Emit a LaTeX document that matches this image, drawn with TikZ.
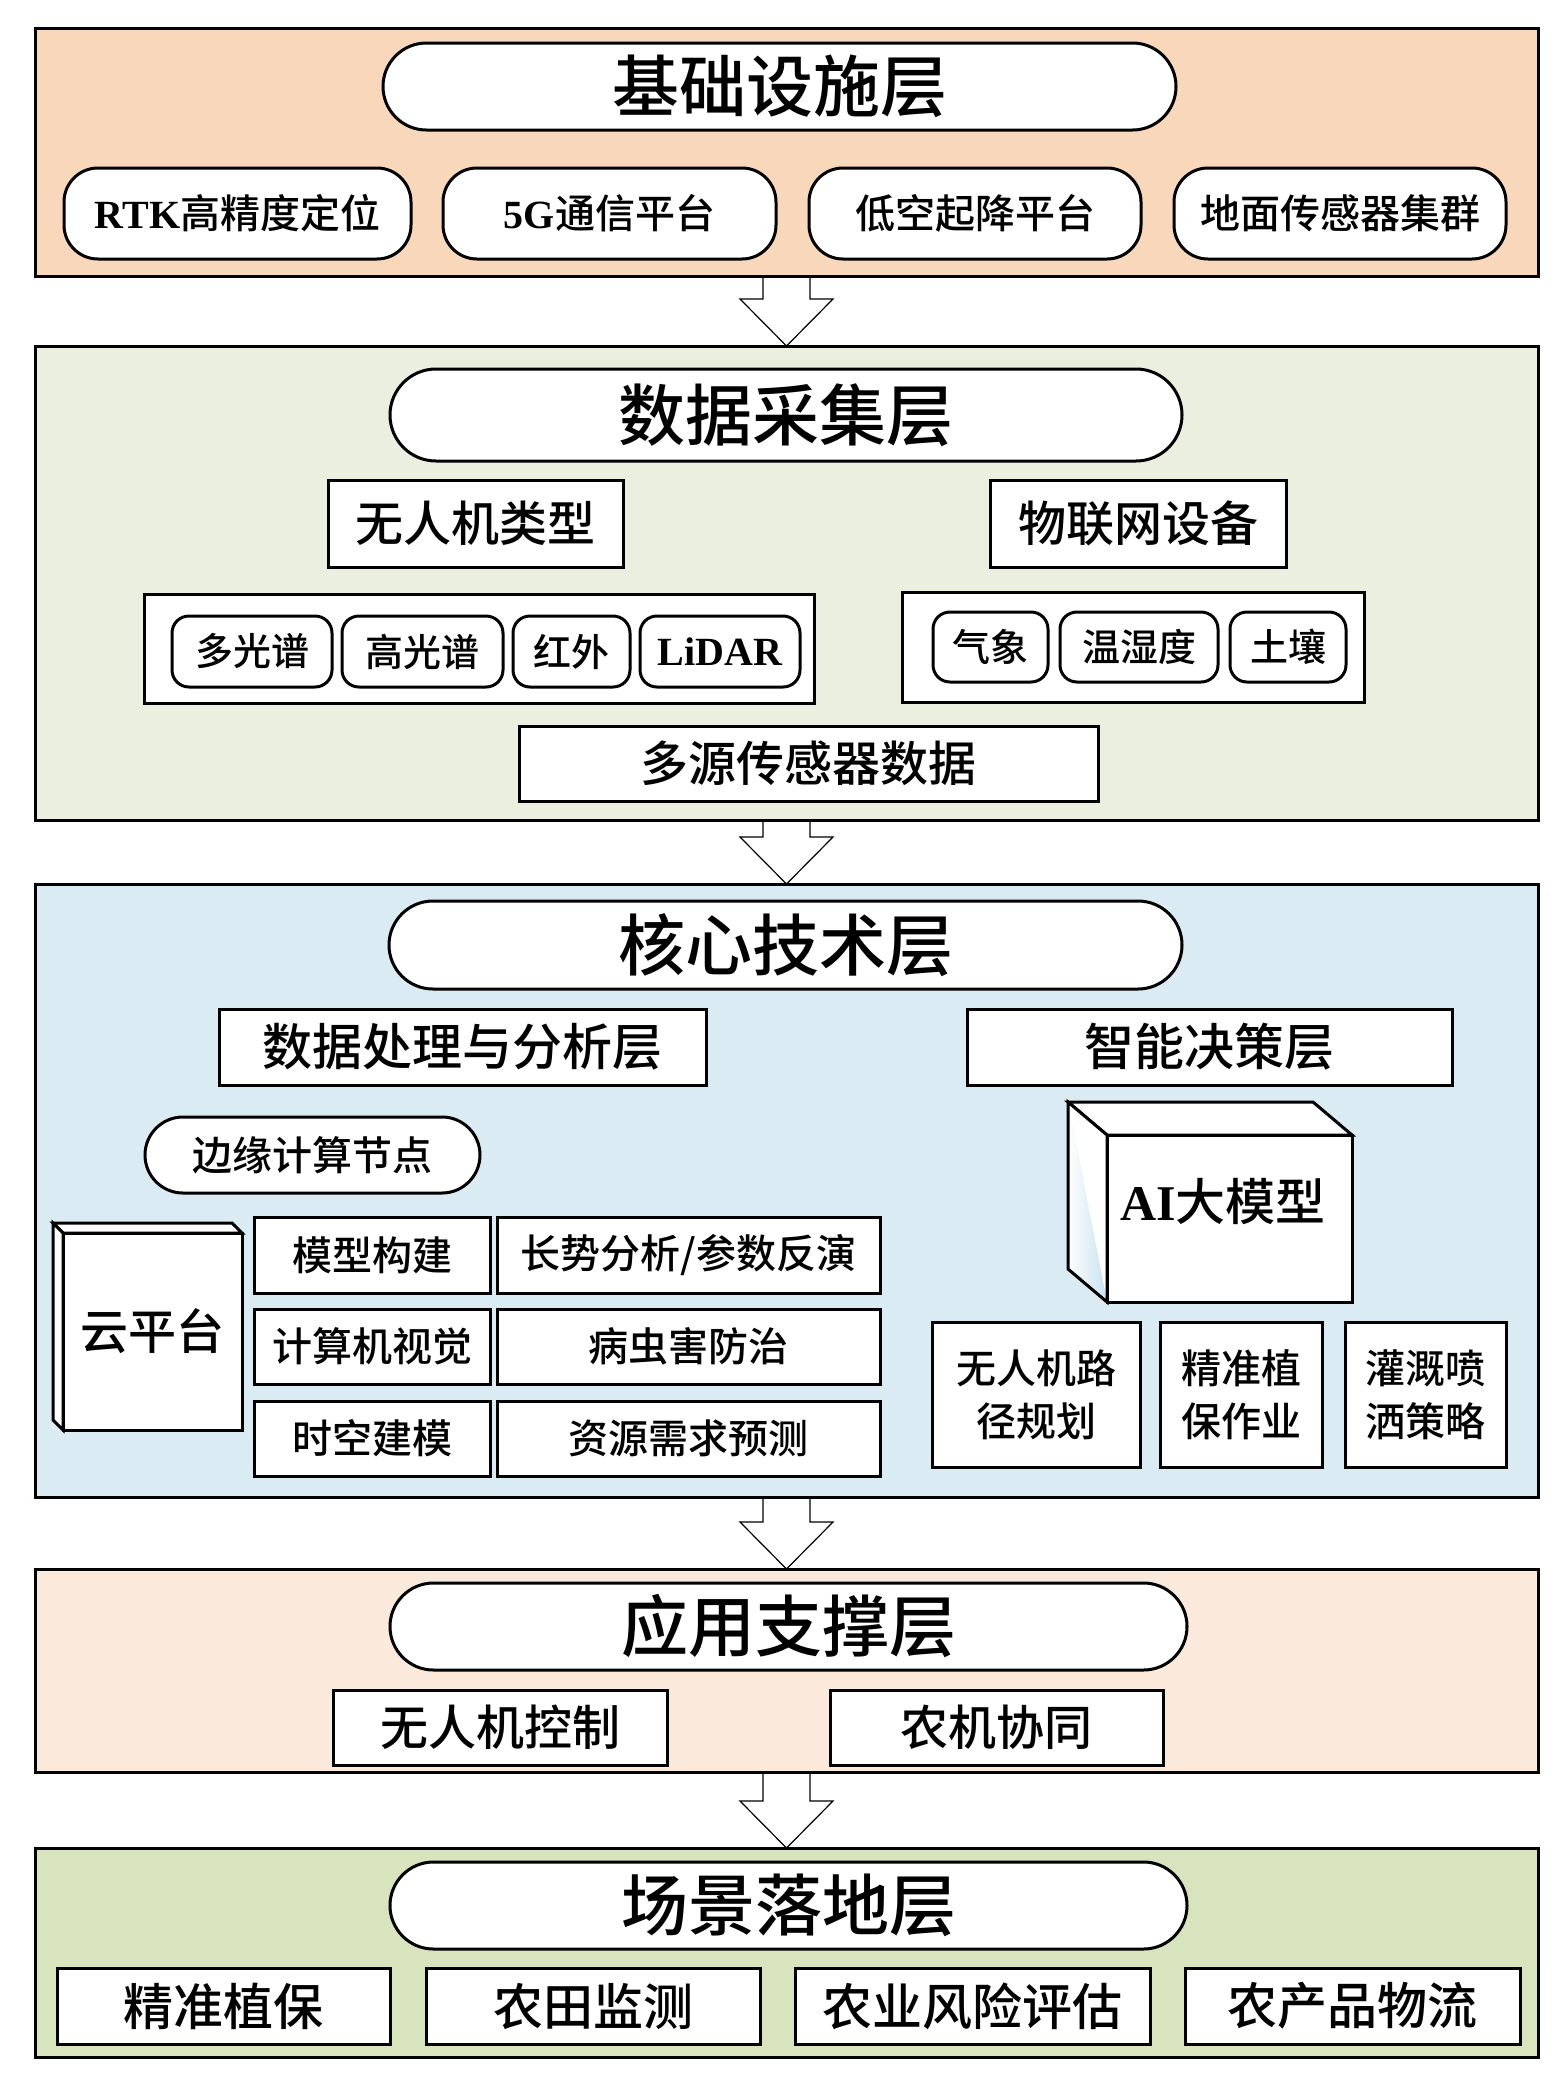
\documentclass[tikz,border=0pt]{standalone}
\usepackage{fontspec}
\setmainfont{Noto Sans CJK SC Medium}
\newfontfamily\lat{Liberation Serif}
\usetikzlibrary{calc,shapes.misc,backgrounds}
\definecolor{cA}{RGB}{249,215,187}
\definecolor{cB}{RGB}{235,239,223}
\definecolor{cC}{RGB}{219,235,243}
\definecolor{cD}{RGB}{251,234,220}
\definecolor{cE}{RGB}{216,228,190}
\definecolor{faceblue}{RGB}{200,226,240}
\tikzset{
  layerbox/.style={draw, line width=3pt, inner sep=0pt, outer sep=0pt},
  titlepill/.style={draw, fill=white, line width=3pt, rounded rectangle, inner sep=0pt, outer sep=0pt, font=\fontsize{67}{70}\selectfont},
  infrapill/.style={draw, fill=white, line width=3pt, rounded corners=34pt, inner sep=0pt, outer sep=0pt, font=\fontsize{40}{48}\selectfont},
  smallpill/.style={draw, fill=white, line width=3pt, rounded corners=17pt, inner sep=0pt, outer sep=0pt, font=\fontsize{38}{46}\selectfont},
  plainbox/.style={draw, fill=white, line width=3pt, inner sep=0pt, outer sep=0pt},
  bigtext/.style={font=\fontsize{48}{56}\selectfont},
  midtext/.style={font=\fontsize{40}{53}\selectfont, align=center},
  flowarrow/.style={draw, fill=white, line width=1.2pt, line join=miter},
  face/.style={draw, fill=white, line width=3pt, line join=miter}
}
\newcommand\layerarrow[2]{%
  \draw[flowarrow] let \p1=(#1.south), \p2=(#2.north) in
   (\x1-23.5pt,\y1) -- (\x1+23.5pt,\y1) -- (\x1+23.5pt,\y2+47pt) -- (\x1+46.5pt,\y2+47pt)
   -- (\x1,\y2) -- (\x1-46.5pt,\y2+47pt) -- (\x1-23.5pt,\y2+47pt) -- cycle;}
\begin{document}
\begin{tikzpicture}[x=1pt,y=-1pt]
\useasboundingbox (0,0) rectangle (1563,2078);

% ---------- layer frames ----------
\node[layerbox, fill=cA, minimum width=1503pt, minimum height=248pt] (L1) at (786.5,152) {};
\node[layerbox, fill=cB, minimum width=1503pt, minimum height=474pt] (L2) at (786.5,583) {};
\node[layerbox, fill=cC, minimum width=1503pt, minimum height=613pt] (L3) at (786.5,1190.5) {};
\node[layerbox, fill=cD, minimum width=1503pt, minimum height=203pt] (L4) at (786.5,1670.5) {};
\node[layerbox, fill=cE, minimum width=1503pt, minimum height=209pt] (L5) at (786.5,1952.5) {};

\begin{pgfonlayer}{background}
\fill[white] (0,0) rectangle (1563,2078);
\layerarrow{L1}{L2}
\layerarrow{L2}{L3}
\layerarrow{L3}{L4}
\layerarrow{L4}{L5}
\end{pgfonlayer}

% ---------- layer 1 ----------
\node[titlepill, minimum width=793pt, minimum height=87pt] (T1) at (779.5,86.5) {基础设施层};
\node[infrapill, minimum width=347pt, minimum height=91pt] (rtk) at (237.5,213.5) {{\lat\bfseries RTK}高精度定位};
\node[infrapill, minimum width=333pt, minimum height=91pt] (g5) at (609.5,213.5) {{\lat\bfseries 5G}通信平台};
\node[infrapill, minimum width=332pt, minimum height=91pt] (lowalt) at (975,213.5) {低空起降平台};
\node[infrapill, minimum width=332pt, minimum height=91pt] (ground) at (1340,213.5) {地面传感器集群};

% ---------- layer 2 ----------
\node[titlepill, minimum width=792pt, minimum height=92pt] (T2) at (786,415) {数据采集层};
\node[plainbox, bigtext, minimum width=295pt, minimum height=87pt] (uavtype) at (475.5,523.5) {无人机类型};
\node[plainbox, bigtext, minimum width=296pt, minimum height=87pt] (iot) at (1138,523.5) {物联网设备};
\node[plainbox, minimum width=670pt, minimum height=109pt] (contL) at (479,648.5) {};
\node[smallpill, minimum width=160pt, minimum height=71pt] (ms) at (252,651.5) {多光谱};
\node[smallpill, minimum width=161pt, minimum height=71pt] (hs) at (422.5,651.5) {高光谱};
\node[smallpill, minimum width=117pt, minimum height=71pt] (ir) at (571.5,651.5) {红外};
\node[smallpill, minimum width=160pt, minimum height=71pt, font=\lat\bfseries\fontsize{40}{46}\selectfont] (lidar) at (720,651.5) {LiDAR};
\node[plainbox, minimum width=462pt, minimum height=110pt] (contR) at (1133,647) {};
\node[smallpill, minimum width=115pt, minimum height=70pt] (met) at (990.5,647) {气象};
\node[smallpill, minimum width=158pt, minimum height=70pt] (hum) at (1139,647) {温湿度};
\node[smallpill, minimum width=116pt, minimum height=70pt] (soil) at (1288,647) {土壤};
\node[plainbox, bigtext, minimum width=579pt, minimum height=75pt] (multi) at (808.5,763.5) {多源传感器数据};

% ---------- layer 3 ----------
\node[titlepill, minimum width=793pt, minimum height=88pt] (T3) at (785.5,945) {核心技术层};
\node[plainbox, font=\fontsize{50}{56}\selectfont, minimum width=487pt, minimum height=76pt] (proc) at (462.5,1047) {数据处理与分析层};
\node[plainbox, font=\fontsize{50}{56}\selectfont, minimum width=485pt, minimum height=76pt] (decide) at (1209.5,1047) {智能决策层};
\node[draw, fill=white, line width=3pt, rounded rectangle, inner sep=0pt, outer sep=0pt, font=\fontsize{40}{48}\selectfont, minimum width=335pt, minimum height=76pt] (edge) at (312.5,1155) {边缘计算节点};

% cloud platform (3D box)
\node[plainbox, bigtext, minimum width=179pt, minimum height=197pt] (cloud) at (152.5,1331.5) {云平台};
\draw[face] (cloud.north west) -- ++(-10,-10) -- ($(cloud.north east)+(-10,-10)$) -- (cloud.north east) -- cycle;
\draw[face] (cloud.north west) -- ++(-10,-10) -- ($(cloud.south west)+(-10,-10)$) -- (cloud.south west) -- cycle;

\node[plainbox, midtext, minimum width=236pt, minimum height=76pt] (g11) at (372,1255) {模型构建};
\node[plainbox, midtext, minimum width=383pt, minimum height=76pt] (g12) at (688.5,1255) {长势分析/参数反演};
\node[plainbox, midtext, minimum width=236pt, minimum height=75pt] (g21) at (372,1346.5) {计算机视觉};
\node[plainbox, midtext, minimum width=383pt, minimum height=75pt] (g22) at (688.5,1346.5) {病虫害防治};
\node[plainbox, midtext, minimum width=236pt, minimum height=75pt] (g31) at (372,1438.5) {时空建模};
\node[plainbox, midtext, minimum width=383pt, minimum height=75pt] (g32) at (688.5,1438.5) {资源需求预测};

% AI model (3D box)
\node[plainbox, minimum width=245pt, minimum height=167pt] (ai) at (1229.5,1218.5) {};
\node[font=\fontsize{50}{56}\selectfont, inner sep=0pt] (aitext) at (1223,1201) {{\lat\bfseries AI}大模型};
\draw[face] (ai.north west) -- ++(-39,-33) -- ($(ai.north east)+(-39,-33)$) -- (ai.north east) -- cycle;
\fill[white] (ai.north west) -- ++(-39,-33) -- (ai.south west) -- cycle;
\shade[left color=white, right color=faceblue] ($(ai.north west)+(-39,-33)$) -- ($(ai.south west)+(-39,-33)$) -- (ai.south west) -- cycle;
\draw[line width=3pt, line join=miter] (ai.north west) -- ++(-39,-33) -- ($(ai.south west)+(-39,-33)$) -- (ai.south west) -- cycle;

\node[plainbox, midtext, minimum width=208pt, minimum height=145pt] (route) at (1036,1394.5) {无人机路\\径规划};
\node[plainbox, midtext, minimum width=162pt, minimum height=145pt] (plantp) at (1241,1394.5) {精准植\\保作业};
\node[plainbox, midtext, minimum width=161pt, minimum height=145pt] (irrig) at (1425.5,1394.5) {灌溉喷\\洒策略};

% ---------- layer 4 ----------
\node[titlepill, minimum width=797pt, minimum height=87pt] (T4) at (788.5,1626.5) {应用支撑层};
\node[plainbox, bigtext, minimum width=334pt, minimum height=75pt] (uavctl) at (500,1727.5) {无人机控制};
\node[plainbox, bigtext, minimum width=333pt, minimum height=75pt] (coop) at (996.5,1727.5) {农机协同};

% ---------- layer 5 ----------
\node[titlepill, minimum width=797pt, minimum height=87pt] (T5) at (788.5,1905.5) {场景落地层};
\node[plainbox, font=\fontsize{50}{56}\selectfont, minimum width=333pt, minimum height=76pt] (s1) at (223.5,2006) {精准植保};
\node[plainbox, font=\fontsize{50}{56}\selectfont, minimum width=334pt, minimum height=76pt] (s2) at (593,2006) {农田监测};
\node[plainbox, font=\fontsize{50}{56}\selectfont, minimum width=355pt, minimum height=76pt] (s3) at (972.5,2006) {农业风险评估};
\node[plainbox, font=\fontsize{50}{56}\selectfont, minimum width=335pt, minimum height=76pt] (s4) at (1352.5,2006) {农产品物流};
\end{tikzpicture}
\end{document}
